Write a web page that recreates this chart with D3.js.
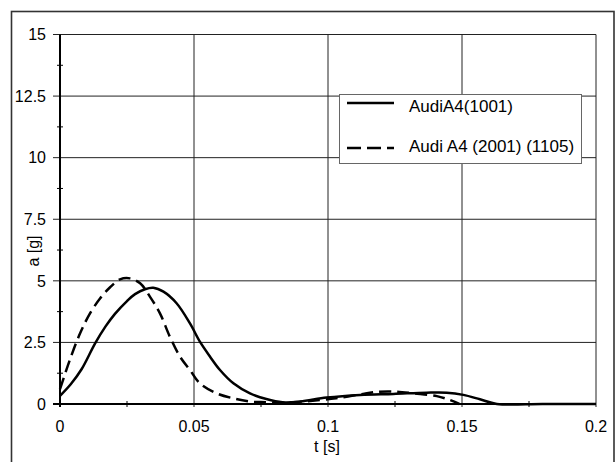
<!DOCTYPE html>
<html><head><meta charset="utf-8">
<script src="https://cdn.jsdelivr.net/npm/d3@7"></script>
<style>html,body{margin:0;padding:0;background:#fff;}svg{display:block;font-family:"Liberation Sans",Arial,sans-serif;}</style>
</head><body>
<svg id="c" width="616" height="462"></svg>
<script>
const seriesNames = ["AudiA4(1001)", "Audi A4 (2001) (1105)"];
const tSolid = [0,0.004,0.0081,0.0131,0.017,0.0205,0.025,0.028,0.0317,0.0348,0.0386,0.0435,0.0485,0.0522,0.056,0.0597,0.0647,0.0709,0.077,0.083,0.0896,0.0995,0.112,0.1244,0.1368,0.1443,0.1505,0.1567,0.163,0.18,0.2];
const aSolid = [0.33,0.8,1.42,2.46,3.15,3.66,4.18,4.46,4.66,4.72,4.56,4.09,3.27,2.53,1.92,1.38,0.84,0.43,0.2,0.07,0.1,0.26,0.37,0.41,0.46,0.46,0.37,0.19,0,0,0];
const tDash = [0,0.0037,0.0075,0.0112,0.015,0.0187,0.0224,0.0261,0.0299,0.0336,0.0373,0.041,0.0448,0.0485,0.0522,0.0585,0.0647,0.0709,0.077,0.082,0.087,0.097,0.103,0.112,0.118,0.1256,0.132,0.1406,0.1455,0.149];
const aDash = [0.6,1.8,2.87,3.68,4.29,4.74,5.06,5.1,4.9,4.35,3.68,2.73,1.92,1.38,0.84,0.43,0.23,0.1,0.07,0.04,0.07,0.16,0.23,0.39,0.49,0.5,0.43,0.32,0.16,0];
const xTicks = [0,0.05,0.1,0.15,0.2];
const xTickLabels = ["0","0.05","0.1","0.15","0.2"];
const xMinor = [0.025,0.075,0.125,0.175];
const yTicks = [0,2.5,5,7.5,10,12.5,15];
const yTickLabels = ["0","2.5","5","7.5","10","12.5","15"];
const yMinor = [1.25,3.75,6.25,8.75,11.25,13.75];
const xTitle = "t [s]", yTitle = "a [g]";

const svg = d3.select("#c");
const x = d3.scaleLinear([0,0.2],[60,596]);
const y = d3.scaleLinear([0,15],[404,34.5]);

// outer frame
svg.append("rect").attr("x",11.5).attr("y",11.5).attr("width",602.5).attr("height",520)
  .attr("fill","none").attr("stroke","#333").attr("stroke-width",1.6);

// grid
const g = svg.append("g");
g.selectAll(".hg").data(yTicks.filter(d=>d>0)).join("line")
  .attr("x1",53).attr("x2",x(0.2)).attr("y1",d=>y(d)).attr("y2",d=>y(d))
  .attr("stroke","#222").attr("stroke-width",1);
g.selectAll(".vg").data(xTicks.filter(d=>d>0)).join("line")
  .attr("x1",d=>x(d)).attr("x2",d=>x(d)).attr("y1",y(15)).attr("y2",y(0)+3)
  .attr("stroke","#222").attr("stroke-width",1);
// minor ticks
g.selectAll(".ym").data(yMinor).join("line")
  .attr("x1",57).attr("x2",63).attr("y1",d=>y(d)).attr("y2",d=>y(d)).attr("stroke","#000");
g.selectAll(".xm").data(xMinor).join("line")
  .attr("x1",d=>x(d)).attr("x2",d=>x(d)).attr("y1",y(0)-3).attr("y2",y(0)+3).attr("stroke","#000");
// axes
g.append("line").attr("x1",x(0)).attr("x2",x(0)).attr("y1",y(15)).attr("y2",y(0)+3).attr("stroke","#000").attr("stroke-width",2);
g.append("line").attr("x1",53).attr("x2",x(0.2)).attr("y1",y(0)).attr("y2",y(0)).attr("stroke","#000").attr("stroke-width",2);

// tick labels
svg.selectAll(".yl").data(yTicks).join("text")
  .attr("x",46).attr("y",d=>y(d)).attr("dy","0.36em").attr("text-anchor","end")
  .attr("font-size",16).attr("fill","#000").text((d,i)=>yTickLabels[i]);
svg.selectAll(".xl").data(xTicks).join("text")
  .attr("x",d=>x(d)).attr("y",432).attr("text-anchor","middle")
  .attr("font-size",16).attr("fill","#000").text((d,i)=>xTickLabels[i]);
svg.append("text").attr("x",327).attr("y",452).attr("text-anchor","middle").attr("font-size",16).text(xTitle);
svg.append("text").attr("transform","translate(39,251) rotate(-90)").attr("text-anchor","middle").attr("font-size",16).text(yTitle);

// curves
const line = d3.line().x(d=>x(d[0])).y(d=>Math.min(y(0), y(d[1]))).curve(d3.curveCatmullRom.alpha(0.5));
const solid = tSolid.map((t,i)=>[t,aSolid[i]]);
const dashed = tDash.map((t,i)=>[t,aDash[i]]);
svg.append("path").attr("d",line(solid)).attr("fill","none").attr("stroke","#000").attr("stroke-width",2.5);
svg.append("path").attr("d",line(dashed)).attr("fill","none").attr("stroke","#000").attr("stroke-width",2.5).attr("stroke-dasharray","12,6");

// legend
const lg = svg.append("g");
lg.append("rect").attr("x",339.5).attr("y",94.5).attr("width",242).attr("height",69)
  .attr("fill","#fff").attr("stroke","#666").attr("stroke-width",1);
const items = [{dash:null, yy:103, ty:111.5}, {dash:"14,6", yy:148, ty:151.5}];
items.forEach((it,i)=>{
  const l = lg.append("line").attr("x1",347).attr("x2",394).attr("y1",it.yy).attr("y2",it.yy)
    .attr("stroke","#000").attr("stroke-width",2.5);
  if(it.dash) l.attr("stroke-dasharray",it.dash);
  lg.append("text").attr("x",409).attr("y",it.ty).attr("font-size",17).text(seriesNames[i]);
});
</script>
</body></html>
